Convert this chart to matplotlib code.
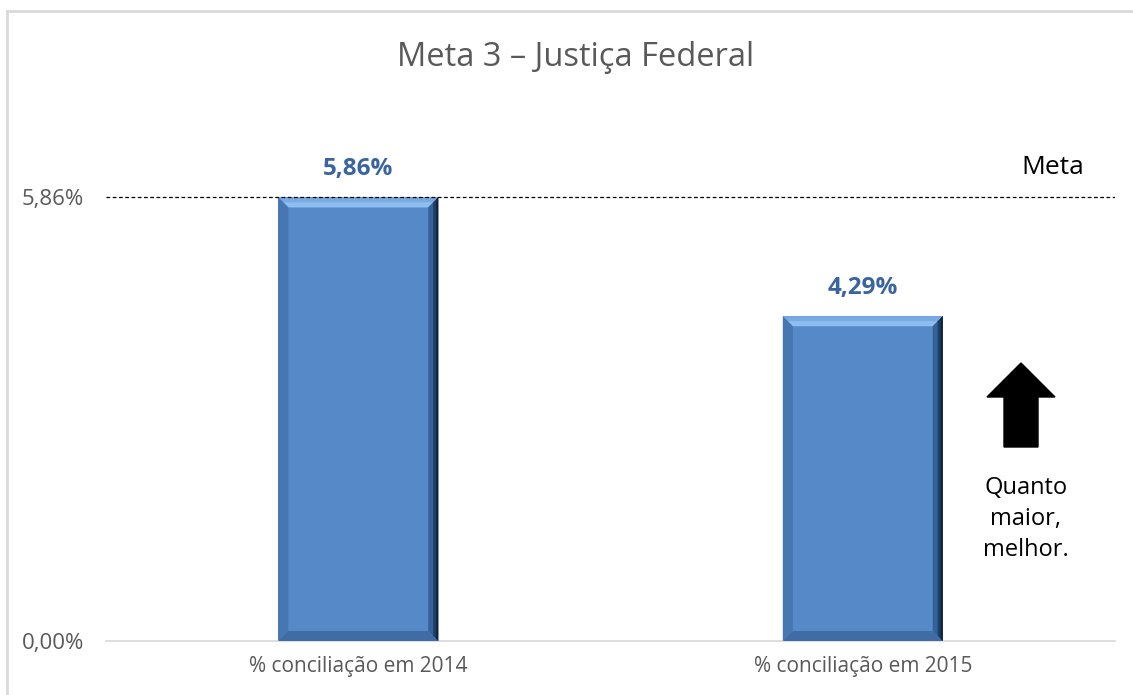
import matplotlib
matplotlib.use("Agg")
import matplotlib.pyplot as plt
from matplotlib.patches import Polygon, FancyArrow
from matplotlib.lines import Line2D

categories = ["% conciliação em 2014", "% conciliação em 2015"]
values = [5.86, 4.29]
value_labels = ["5,86%", "4,29%"]
meta_value = 5.86
ytick_values = [0.0, 5.86]
ytick_labels = ["0,00%", "5,86%"]
title = "Meta 3 – Justiça Federal"

plt.rcParams['font.family'] = ['Open Sans', 'DejaVu Sans']

W, H, DPI = 1133, 695, 100
fig = plt.figure(figsize=(W / DPI, H / DPI), dpi=DPI)
ax = fig.add_axes([106 / W, 1 - 641 / H, (1115 - 106) / W, (641 - 111) / H])

x = list(range(len(categories)))
bar_w = 0.317
main_col = "#5589C8"
bars = ax.bar(x, values, width=bar_w, color=main_col, edgecolor="none", zorder=2)
ax.set_xlim(-0.5, len(categories) - 0.5)
ax.set_ylim(0, 7.0)

# bevel decoration derived from bar geometry
fig.canvas.draw()
inv = ax.transData.inverted()
def px2dx(p):
    return inv.transform((p, 0))[0] - inv.transform((0, 0))[0]
def px2dy(p):
    return inv.transform((0, p))[1] - inv.transform((0, 0))[1]
b = 10
bx, by = px2dx(b), px2dy(b)
for rect in bars:
    x0 = rect.get_x(); x1 = x0 + rect.get_width(); y1 = rect.get_height(); y0 = 0
    # top bevel (light)
    ax.add_patch(Polygon([(x0, y1), (x1, y1), (x1 - bx, y1 - by), (x0 + bx, y1 - by)],
                         closed=True, facecolor="#7AAAE2", edgecolor="none", zorder=3))
    ax.add_patch(Polygon([(x0 + bx * 0.5, y1 - by * 0.5), (x1 - bx * 0.5, y1 - by * 0.5),
                          (x1 - bx, y1 - by), (x0 + bx, y1 - by)],
                         closed=True, facecolor="#8EBDF0", edgecolor="none", zorder=3))
    # left bevel
    ax.add_patch(Polygon([(x0, y1), (x0 + bx, y1 - by), (x0 + bx, y0 + by), (x0, y0)],
                         closed=True, facecolor="#4876B0", edgecolor="none", zorder=3))
    # right bevel (dark)
    ax.add_patch(Polygon([(x1, y1), (x1 - bx, y1 - by), (x1 - bx, y0 + by), (x1, y0)],
                         closed=True, facecolor="#34619A", edgecolor="none", zorder=3))
    ax.add_patch(Polygon([(x1, y1), (x1 - bx * 0.5, y1 - by * 0.5), (x1 - bx * 0.5, y0 + by * 0.5), (x1, y0)],
                         closed=True, facecolor="#1F3D63", edgecolor="none", zorder=3))
    ax.add_patch(Polygon([(x1, y1), (x1 - bx * 0.2, y1 - by * 0.2), (x1 - bx * 0.2, y0), (x1, y0)],
                         closed=True, facecolor="#10213A", edgecolor="none", zorder=3))
    # bottom bevel
    ax.add_patch(Polygon([(x0, y0), (x1, y0), (x1 - bx, y0 + by), (x0 + bx, y0 + by)],
                         closed=True, facecolor="#3F6CA5", edgecolor="none", zorder=3))

for xi, v, lab in zip(x, values, value_labels):
    ax.annotate(lab, (xi, v), xytext=(0, 12), textcoords="offset points",
                ha="center", va="bottom", fontsize=17.5, fontweight="bold", color="#3A64A0")

ax.axhline(meta_value, color="black", linestyle=(0, (3, 2)), linewidth=0.9, zorder=4)

for s in ["top", "right", "left"]:
    ax.spines[s].set_visible(False)
ax.spines["bottom"].set_color("#D9D9D9")
ax.spines["bottom"].set_linewidth(1.2)

ax.set_yticks(ytick_values)
ax.set_yticklabels(ytick_labels, fontsize=16, color="#595959")
ax.set_xticks(x)
ax.set_xticklabels(categories, fontsize=15, color="#595959")
ax.tick_params(axis="both", length=0)
ax.tick_params(axis="y", pad=16)
ax.tick_params(axis="x", pad=11)

fig.text(576 / W, 1 - 57 / H, title, ha="center", va="center", fontsize=23.5, color="#595959")
fig.text(1053 / W, 1 - 168 / H, "Meta", ha="center", va="center", fontsize=19, color="black")

# arrow annotation
fig.patches.append(FancyArrow(1021 / W, 1 - 447 / H, 0, (447 - 363) / H,
                              width=34 / W, head_width=68 / W, head_length=34 / H,
                              length_includes_head=True, color="black",
                              transform=fig.transFigure, figure=fig))
fig.text(1026 / W, 1 - 519 / H, "Quanto\nmaior,\nmelhor.", ha="center", va="center",
         fontsize=17, color="black", linespacing=1.38)

# chart border (top & left)
fig.lines.append(Line2D([7 / W, 1], [1 - 11 / H, 1 - 11 / H], transform=fig.transFigure,
                        color="#D9D9D9", linewidth=2))
fig.lines.append(Line2D([7 / W, 7 / W], [0, 1 - 11 / H], transform=fig.transFigure,
                        color="#D9D9D9", linewidth=2))

fig.savefig("out.png", dpi=DPI)
